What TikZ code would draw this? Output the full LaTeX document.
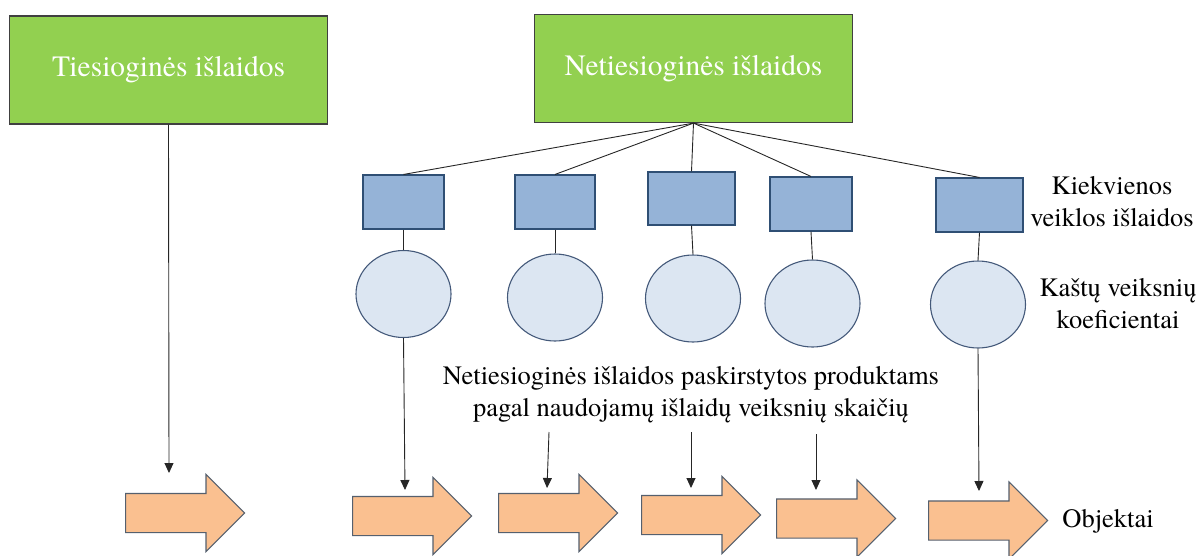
\documentclass[tikz,border=0pt]{standalone}
\usepackage{fontspec}
\setmainfont{texgyretermes}[Extension=.otf,UprightFont=*-regular,BoldFont=*-bold,ItalicFont=*-italic,BoldItalicFont=*-bolditalic]
\usetikzlibrary{shapes.geometric,shapes.arrows,arrows.meta}
\definecolor{boxgreen}{HTML}{92D050}
\definecolor{rectfill}{HTML}{95B3D7}
\definecolor{rectdraw}{HTML}{2F4F74}
\definecolor{circfill}{HTML}{DCE6F2}
\definecolor{circdraw}{HTML}{44597A}
\definecolor{arrfill}{HTML}{FAC090}
\definecolor{arrdraw}{HTML}{55606E}
\begin{document}
\begin{tikzpicture}[x=1pt,y=-1pt,
  greenbox/.style={draw=black!75,line width=1.2pt,fill=boxgreen,text=white,
    minimum width=318pt,minimum height=108pt,inner sep=0pt,
    font=\fontsize{29.5}{35}\selectfont},
  actbox/.style={draw=rectdraw,line width=1.1pt,fill=rectfill,minimum height=54pt,inner sep=0pt},
  drvcirc/.style={ellipse,draw=circdraw,line width=1.1pt,fill=circfill,
    minimum width=95pt,minimum height=87pt,inner sep=0pt},
  blockarrow/.style={single arrow,draw=arrdraw,line width=1.1pt,fill=arrfill,
    minimum height=119pt,minimum width=76pt,single arrow head extend=19pt,
    single arrow tip angle=90,inner xsep=0pt,inner ysep=19pt,anchor=tail},
  lbl/.style={align=center,font=\fontsize{26.5}{32}\selectfont,inner sep=0pt},
  conn/.style={draw=black!85,line width=0.9pt},
  arr/.style={conn,-{Triangle[length=10pt,width=9pt]}}
]
\useasboundingbox (0,0) rectangle (1197,555);

% green boxes
\node[greenbox] (g1) at (168.5,70) {Tiesioginės išlaidos};
\node[greenbox] (g2) at (693.5,68.5) {Netiesioginės išlaidos};

% activity boxes
\node[actbox,minimum width=81pt] (r1) at (403.5,202) {};
\node[actbox,minimum width=80pt] (r2) at (555,202) {};
\node[actbox,minimum width=87pt,minimum height=53pt] (r3) at (691.5,198.5) {};
\node[actbox,minimum width=82pt] (r4) at (811,204) {};
\node[actbox,minimum width=87pt] (r5) at (979.5,205) {};

% driver circles
\node[drvcirc] (c1) at (403.5,294) {};
\node[drvcirc] (c2) at (555,297.5) {};
\node[drvcirc] (c3) at (693,298.5) {};
\node[drvcirc] (c4) at (812.5,303.5) {};
\node[drvcirc] (c5) at (978,304.5) {};

% block arrows
\node[blockarrow] (a1) at (125,513) {};
\node[blockarrow] (a2) at (352,516) {};
\node[blockarrow] (a3) at (498,513) {};
\node[blockarrow] (a4) at (641,515) {};
\node[blockarrow] (a5) at (776,518.5) {};
\node[blockarrow] (a6) at (928,520.5) {};

% labels
\node[lbl] (l1) at (1112,202) {Kiekvienos\\veiklos išlaidos};
\node[lbl] (l2) at (1118,303.5) {Kaštų veiksnių\\koeficientai};
\node[lbl] (l3) at (691,394.5) {Netiesioginės išlaidos paskirstytos produktams\\pagal naudojamų išlaidų veiksnių skaičių};
\node[lbl] (l4) at (1108,521) {Objektai};

% connectors from the indirect cost box
\foreach \r in {r1,r2,r3,r4,r5}{\draw[conn] (g2.south) -- (\r.north);}
\draw[conn] (r1.south) -- (c1.north);
\draw[conn] (r2.south) -- (c2.north);
\draw[conn] (r3.south) -- (c3.north);
\draw[conn] (r4.south) -- (c4.north);
\draw[conn] (r5.south) -- (c5.north);

% arrows
\coordinate (t1) at (169,473);
\coordinate (t2) at (405,490);
\coordinate (s3) at (549,432);
\coordinate (t3) at (547,488);
\coordinate (s4) at (691,432);
\coordinate (t4) at (691,488);
\coordinate (s5) at (816,434);
\coordinate (t5) at (816,490);
\coordinate (t6) at (979,491);
\draw[arr] (g1.south) -- (t1);
\draw[arr] (c1.south) -- (t2);
\draw[arr] (s3) -- (t3);
\draw[arr] (s4) -- (t4);
\draw[arr] (s5) -- (t5);
\draw[arr] (c5.south) -- (t6);
\end{tikzpicture}
\end{document}
